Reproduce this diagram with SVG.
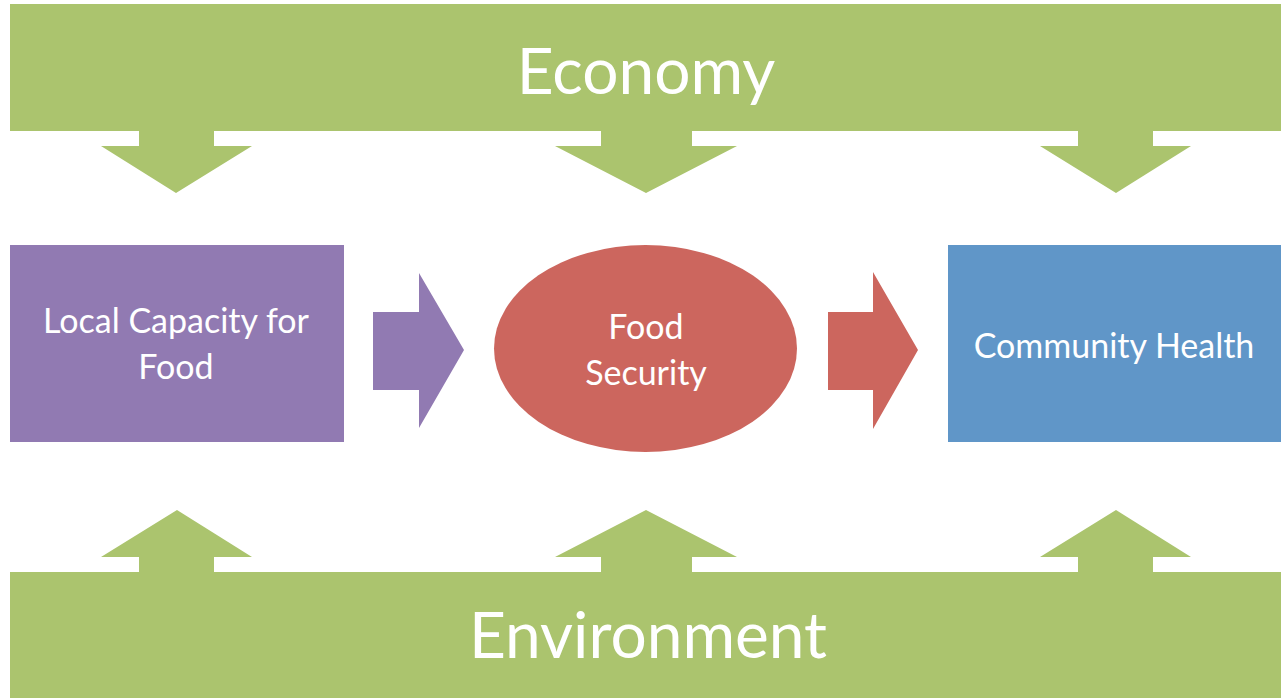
<svg xmlns="http://www.w3.org/2000/svg" width="1281" height="698" viewBox="0 0 1281 698">
  <style>
    .green { fill: #abc46e; }
    .label { fill: #ffffff; font-family: Lato, "Open Sans", "Liberation Sans", sans-serif; text-anchor: middle; }
    .big { font-size: 64px; }
    .small { font-size: 34px; }
  </style>
  <rect width="1281" height="698" fill="#ffffff"/>

  <!-- Economy band with downward arrows -->
  <g id="economy">
    <rect class="green" x="10" y="4" width="1271" height="127"/>
    <text class="label big" x="646" y="94">Economy</text>
  </g>

  <!-- Environment band with upward arrows -->
  <g id="environment">
    <rect class="green" x="10" y="572" width="1271" height="126"/>
    <text class="label big" x="648" y="658">Environment</text>
  </g>

  <g id="local-capacity">
    <rect x="10" y="245" width="334" height="197" fill="#917ab2"/>
    <text class="label small" x="176" y="333">Local Capacity for</text>
    <text class="label small" x="176" y="379">Food</text>
  </g>

  <g id="food-security">
    <ellipse cx="645.5" cy="348.5" rx="151.5" ry="103.5" fill="#cc665e"/>
    <text class="label small" x="646" y="339">Food</text>
    <text class="label small" x="646" y="385">Security</text>
  </g>

  <g id="community-health">
    <rect x="948" y="245" width="333" height="197" fill="#6096c8"/>
    <text class="label small" x="1114" y="358">Community Health</text>
  </g>

  <g id="connectors">
    <!-- down arrows from Economy -->
    <polygon class="green" points="139,130 214,130 214,146 252,146 176,193 101,146 139,146"/>
    <polygon class="green" points="601,130 692,130 692,146 737,146 646,193 555,146 601,146"/>
    <polygon class="green" points="1078,130 1153,130 1153,146 1191,146 1116,193 1040,146 1078,146"/>
    <!-- up arrows from Environment -->
    <polygon class="green" points="139,573 214,573 214,557 252,557 177,510 101,557 139,557"/>
    <polygon class="green" points="601,573 692,573 692,557 737,557 646,510 555,557 601,557"/>
    <polygon class="green" points="1078,573 1153,573 1153,557 1191,557 1116,510 1040,557 1078,557"/>
    <!-- flow arrows -->
    <polygon points="373,312 419,312 419,273 464,350 419,428 419,390 373,390" fill="#917ab2"/>
    <polygon points="828,312 873,312 873,272 918,350 873,429 873,390 828,390" fill="#cc665e"/>
  </g>
</svg>
